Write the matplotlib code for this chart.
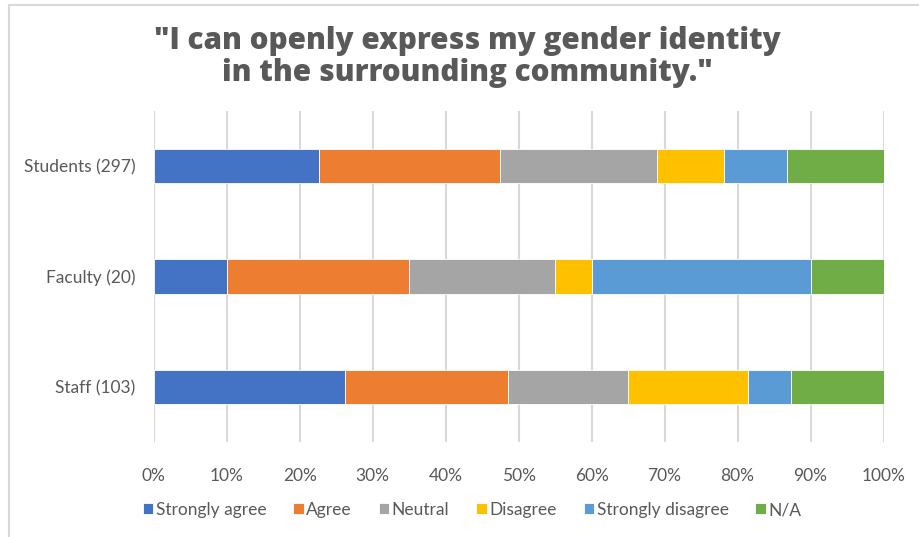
import matplotlib
matplotlib.use("Agg")
import matplotlib.pyplot as plt
import numpy as np

categories = ["Students (297)", "Faculty (20)", "Staff (103)"]
series_names = ["Strongly agree", "Agree", "Neutral", "Disagree", "Strongly disagree", "N/A"]
strongly_agree = [22.6, 10.0, 26.2]
agree = [24.9, 25.0, 22.3]
neutral = [21.5, 20.0, 16.5]
disagree = [9.1, 5.0, 16.5]
strongly_disagree = [8.7, 30.0, 5.8]
na = [13.2, 10.0, 12.7]
colors = ["#4472C4", "#ED7D31", "#A5A5A5", "#FFC000", "#5B9BD5", "#70AD47"]
xticks = [0, 10, 20, 30, 40, 50, 60, 70, 80, 90, 100]
title = "\"I can openly express my gender identity\nin the surrounding community.\""

series = [strongly_agree, agree, neutral, disagree, strongly_disagree, na]

W, H = 919, 537
fig = plt.figure(figsize=(W / 100, H / 100), dpi=100)
fig.patch.set_facecolor("white")

# chart-area border (top and left visible)
fig.add_artist(plt.Line2D([8.5 / W, 8.5 / W], [0, 1 - 4.5 / H], color="#D9D9D9", lw=1.5,
                          transform=fig.transFigure))
fig.add_artist(plt.Line2D([8.5 / W, 1], [1 - 4.5 / H, 1 - 4.5 / H], color="#D9D9D9", lw=1.5,
                          transform=fig.transFigure))

left, right, top, bottom = 153.7, 883.5, 111, 442
ax = fig.add_axes([left / W, 1 - bottom / H, (right - left) / W, (bottom - top) / H])

y = np.arange(len(categories))
cum = np.zeros(len(categories))
for name, vals, c in zip(series_names, series, colors):
    vals = np.array(vals)
    ax.barh(y, vals, left=cum, height=0.312, color=c, label=name,
            edgecolor="white", linewidth=0.6, zorder=3)
    cum += vals

FS = 12.5
ax.set_xlim(0, 100)
ax.set_ylim(len(categories) - 0.5, -0.5)
ax.set_yticks(y)
ax.set_yticklabels(categories, fontfamily="Lato", fontsize=FS, color="#595959")
ax.set_xticks(xticks)
ax.set_xticklabels([f"{t}%" for t in xticks], fontfamily="Lato", fontsize=FS, color="#595959")
ax.tick_params(axis="both", length=0)
ax.tick_params(axis="x", pad=19)
ax.tick_params(axis="y", pad=13)
ax.grid(axis="x", color="#D9D9D9", lw=1.5, zorder=0)
for s in ax.spines.values():
    s.set_visible(False)

fig.text(467 / W, 1 - 57 / H, title, ha="center", va="center", fontfamily="Open Sans",
         fontweight="heavy", fontsize=21.3, color="#595959", linespacing=1.1)

leg = fig.legend(loc="center", bbox_to_anchor=(472 / W, 1 - 510 / H), ncol=6, frameon=False,
                 prop={"family": "Lato", "size": FS}, handlelength=0.6, handleheight=0.6,
                 handletextpad=0.15, columnspacing=1.55)
for t in leg.get_texts():
    t.set_color("#595959")

fig.savefig("out.png", dpi=100, facecolor="white")
